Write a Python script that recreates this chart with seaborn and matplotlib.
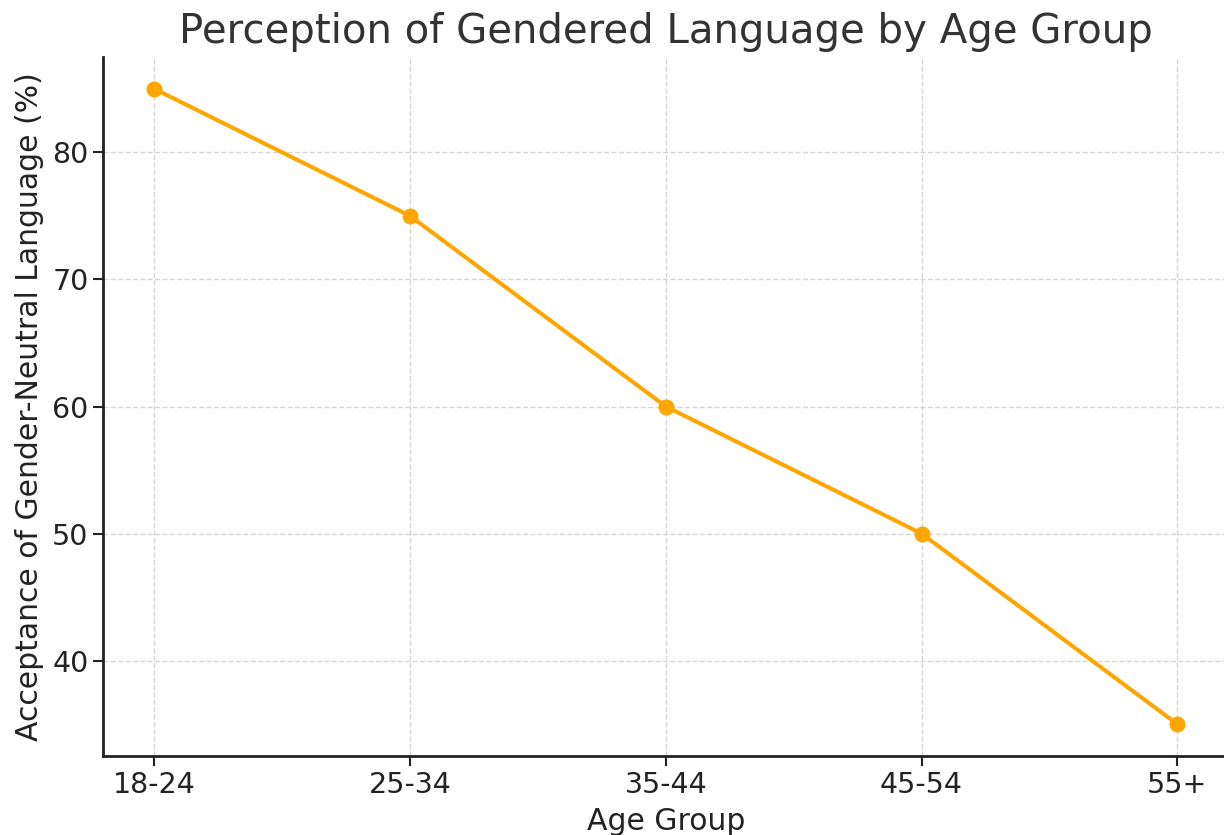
import matplotlib
matplotlib.use("Agg")
import matplotlib.pyplot as plt
import seaborn as sns
import pandas as pd

age_groups = ["18-24", "25-34", "35-44", "45-54", "55+"]
acceptance = [85, 75, 60, 50, 35]

df = pd.DataFrame({"Age Group": age_groups, "Acceptance": acceptance})

sns.set_style("ticks")
plt.rcParams["font.family"] = ["DejaVu Sans"]

fig = plt.figure(figsize=(12.24, 8.35), dpi=100)
ax = fig.add_axes([0.0842, 0.0946, 0.9195, 0.8371])

sns.lineplot(data=df, x="Age Group", y="Acceptance", marker="o", color="#FFA500",
             linewidth=2.9, markersize=11.5, markeredgewidth=0, sort=False, ax=ax)

ax.grid(True, linestyle="--", color="#cccccc", linewidth=1.0, alpha=0.8)
ax.set_title("Perception of Gendered Language by Age Group", fontsize=29, color="#333333", pad=10)
ax.set_xlabel("Age Group", fontsize=21.5, color="#222222", labelpad=6)
ax.set_ylabel("Acceptance of Gender-Neutral Language (%)", fontsize=21.5, color="#222222", labelpad=6)
ax.tick_params(labelsize=20.5, colors="#222222", width=1.5, length=7)
ax.set_yticks([40, 50, 60, 70, 80])
for side in ["left", "bottom"]:
    ax.spines[side].set_linewidth(2)
    ax.spines[side].set_color("#222222")
sns.despine(ax=ax)

fig.savefig("out.png", dpi=100)
